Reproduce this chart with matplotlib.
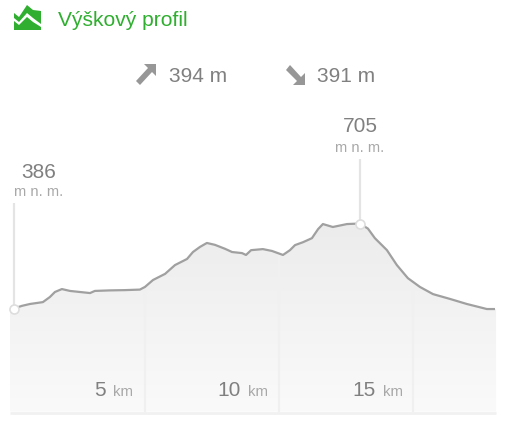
import numpy as np
import matplotlib.pyplot as plt
from matplotlib.patches import Polygon

plt.rcParams['font.family'] = ['Liberation Sans', 'DejaVu Sans']

# profile
distance_km = [0.11, 0.41, 0.71, 1.19, 1.45, 1.64, 1.90, 2.20, 2.57, 2.95, 3.13, 3.69, 4.25, 4.81,
               5.00, 5.30, 5.75, 6.12, 6.57, 6.79, 7.05, 7.31, 7.61, 7.99, 8.25, 8.62, 8.77, 8.96,
               9.40, 9.74, 10.15, 10.41, 10.60, 10.90, 11.23, 11.46, 11.64, 12.01, 12.54, 13.02,
               13.32, 13.58, 14.03, 14.40, 14.81, 15.26, 15.75, 16.38, 17.01, 17.76, 18.02]
elevation_m = [386, 396, 403, 410, 429, 448, 459, 452, 448, 444, 452, 454, 455, 457,
               467, 493, 516, 549, 572, 598, 617, 632, 625, 610, 598, 594, 587, 605,
               609, 602, 587, 605, 624, 635, 650, 684, 703, 692, 703, 705,
               686, 650, 605, 549, 500, 467, 440, 422, 403, 384, 384]
km_ticks = [5, 10, 15]
start_km, start_m = 0.11, 386
peak_km, peak_m = 13.02, 705
ascent = '394 m'
descent = '391 m'

GREEN = '#2fae2f'
GREY = '#808080'
LIGHT = '#a8a8a8'

fig = plt.figure(figsize=(5.07, 4.24), dpi=100)

# chart axes spans the whole figure, limits chosen so km/m land on the right pixels
ax = fig.add_axes([0, 0, 1, 1])
ax.set_xlim(-0.41, 18.51)
ax.set_ylim(-47.5, 1544)
ax.axis('off')

xs = np.array(distance_km)
ys = np.array(elevation_m)
fill_x = np.concatenate([[-0.04], xs, [18.1]])
fill_y = np.concatenate([[ys[0]], ys, [ys[-1]]])
bottom = -1

# soft grey gradient under the curve
area = ax.fill_between(fill_x, bottom, fill_y, color='none')
grad = np.linspace(0, 1, 256).reshape(-1, 1)
img = ax.imshow(grad, extent=[-0.04, 18.1, bottom, 705], aspect='auto', origin='upper',
                cmap=plt.cm.colors.LinearSegmentedColormap.from_list('g', ['#ececec', '#fafafa']),
                zorder=1)
img.set_clip_path(area.get_paths()[0], transform=ax.transData)
ax.set_xlim(-0.41, 18.51)
ax.set_ylim(-47.5, 1544)

for k in km_ticks:
    ax.vlines(k, bottom, np.interp(k, xs, ys), color='#f0f0f0', lw=1.5, zorder=2)
ax.hlines(bottom - 4, -0.04, 18.1, color='#f1f1f1', lw=2, zorder=2)

ax.plot(xs, ys, color='#a0a0a0', lw=1.6, zorder=3)

# leaders up to the labels
ax.vlines(start_km, start_m, 782, color='#e4e4e4', lw=1.6, zorder=2)
ax.vlines(peak_km, peak_m, 948, color='#e4e4e4', lw=1.6, zorder=2)
ax.plot([start_km, peak_km], [start_m, peak_m], 'o', ms=6.5, mfc='white', mec='#dddddd', mew=1.2, zorder=4)

# header, in pixels
top = fig.add_axes([0, 0, 1, 1])
top.set_xlim(0, 507)
top.set_ylim(424, 0)
top.axis('off')
top.patch.set_alpha(0)

top.add_patch(Polygon([(14, 13), (19, 17), (27, 5), (33, 10), (41, 11), (41, 24), (33, 18), (27, 13), (19, 22), (14, 18)], color=GREEN, lw=0))
top.add_patch(Polygon([(14, 21), (19, 25), (27, 17), (33, 22), (41, 27), (41, 30), (14, 30)], color=GREEN, lw=0))
top.add_patch(Polygon([(144, 64), (156, 64), (156, 76), (152, 72), (140, 85), (136, 81), (148, 68)], color='#979797', lw=0))
top.add_patch(Polygon([(290, 65), (301, 77), (305, 73), (305, 85), (293, 85), (297, 81), (286, 70)], color='#979797', lw=0))

top.text(58, 20, 'Výškový profil', color=GREEN, fontsize=15.1, va='center', ha='left')
top.text(169, 77, ascent, color=GREY, fontsize=15, va='center', ha='left')
top.text(317, 77, descent, color=GREY, fontsize=15, va='center', ha='left')

top.text(38.5, 172, str(start_m), color=GREY, fontsize=15, va='center', ha='center')
top.text(38.5, 192.5, 'm n. m.', color=LIGHT, fontsize=10.6, va='center', ha='center')
top.text(360, 127, str(peak_m), color=GREY, fontsize=15, va='center', ha='center')
top.text(360, 147.5, 'm n. m.', color=LIGHT, fontsize=10.6, va='center', ha='center')

for k, right in zip(km_ticks, [106, 241, 376]):
    top.text(right, 391, str(k), color=GREY, fontsize=15, va='center', ha='right')
    top.text(right + 7, 392.5, 'km', color=LIGHT, fontsize=10.8, va='center', ha='left')

fig.savefig('out.png', dpi=100)
